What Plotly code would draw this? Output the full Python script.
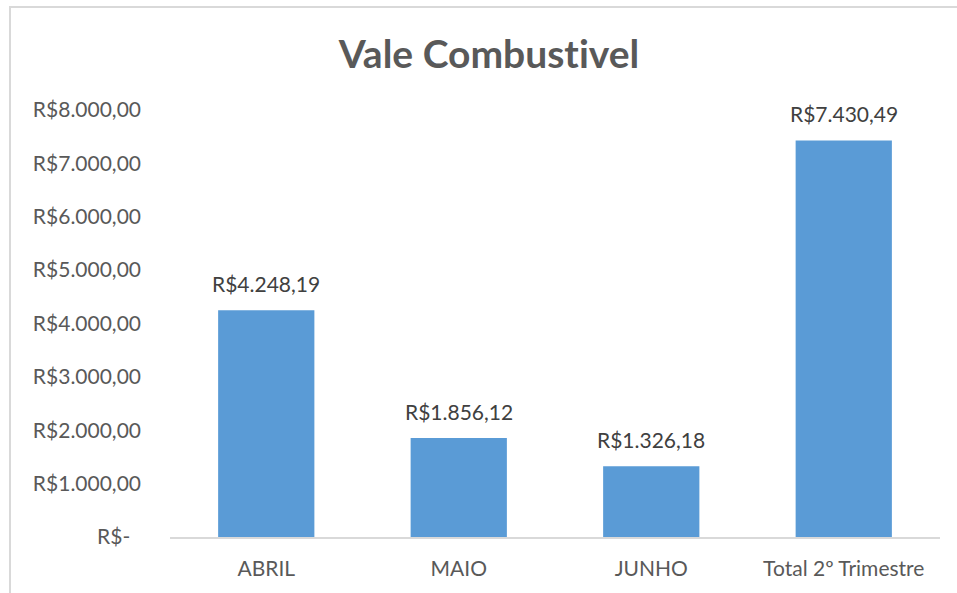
import plotly.graph_objects as go

categories = ["ABRIL", "MAIO", "JUNHO", "Total 2º Trimestre"]
values = [4248.19, 1856.12, 1326.18, 7430.49]
value_labels = ["R$4.248,19", "R$1.856,12", "R$1.326,18", "R$7.430,49"]
tick_vals = [0, 1000, 2000, 3000, 4000, 5000, 6000, 7000, 8000]
tick_text = ["R$-\u00a0\u00a0", "R$1.000,00", "R$2.000,00", "R$3.000,00", "R$4.000,00",
             "R$5.000,00", "R$6.000,00", "R$7.000,00", "R$8.000,00"]

FONT = "Lato"

fig = go.Figure(go.Bar(
    x=categories, y=values,
    marker=dict(color="#5a9bd6", line=dict(width=0)),
    width=0.5, hoverinfo="x+y",
))

for c, v, t in zip(categories, values, value_labels):
    fig.add_annotation(x=c, y=v, text=t, showarrow=False, yanchor="bottom", yshift=12,
                       font=dict(family=FONT, size=21, color="#404040"))

W, H = 957, 593
L, R, T, B = 170, 17, 110, 56
pw, ph = W - L - R, H - T - B
bx = (10 - L) / pw
by = (H - B - 7) / ph

fig.update_layout(
    width=W, height=H,
    margin=dict(l=L, r=R, t=T, b=B),
    paper_bgcolor="white", plot_bgcolor="white",
    showlegend=False,
    title=dict(text="<b>Vale Combust\u200civel</b>", x=(338 + 640) / 2 / W, xanchor="center",
               y=1 - 54 / H, yanchor="middle",
               xref="container", yref="container",
               font=dict(family=FONT, size=39, color="#595959")),
    xaxis=dict(showgrid=False, showline=True, linecolor="#d9d9d9", linewidth=1.5,
               ticks="", ticklabelstandoff=12,
               tickfont=dict(family=FONT, size=21, color="#595959")),
    yaxis=dict(range=[0, 8000], tickvals=tick_vals, ticktext=tick_text,
               showgrid=False, zeroline=False, showline=False, ticks="",
               ticklabelstandoff=28,
               tickfont=dict(family=FONT, size=21, color="#595959")),
    shapes=[dict(type="rect", xref="paper", yref="paper",
                 x0=bx, x1=1.5, y0=-0.5, y1=by,
                 line=dict(color="#d9d9d9", width=2), fillcolor="rgba(0,0,0,0)", layer="below")],
)

fig.write_html("out.html", config={"displayModeBar": False},
               post_script="document.body.style.margin='0';")
